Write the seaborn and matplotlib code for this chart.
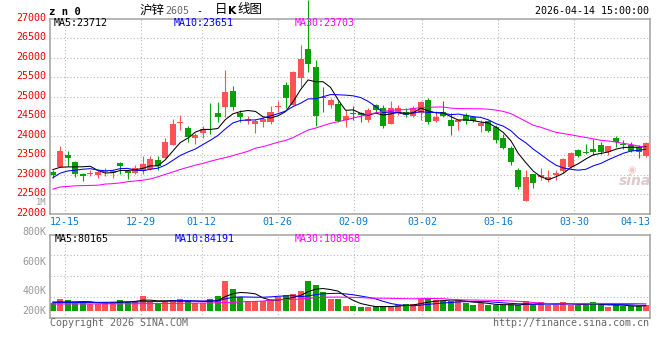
import numpy as np
import pandas as pd
import matplotlib
matplotlib.use("Agg")
import matplotlib.pyplot as plt
import seaborn as sns
from matplotlib.transforms import ScaledTranslation

# ---------------- data ----------------
opens = [23080, 23200, 23500, 23330, 23010, 23030, 22980, 23080, 23040, 23300,
         23100, 23050, 23090, 23140, 23370, 23440, 23760, 24320, 24190, 23945,
         24060, 24300, 24580, 24740, 25140, 24585, 24370, 24305, 24355, 24355,
         24730, 25295, 24800, 25470, 26220, 25765, 25000, 24800, 24825, 24400,
         24580, 24570, 24415, 24780, 24720, 24295, 24570, 24595, 24510, 24570,
         24910, 24375, 24595, 24415, 24355, 24525, 24485, 24250, 24380, 24225,
         23945, 23690, 23115, 22330, 23010, 22945, 22875, 22990, 23100, 23200,
         23630, 23565, 23655, 23755, 23585, 23945, 23780, 23755, 23715, 23475]
highs = [23120, 23740, 23600, 23350, 23050, 23110, 23110, 23160, 23120, 23330,
         23130, 23240, 23480, 23470, 23470, 23930, 24420, 24530, 24240, 24060,
         24260, 24830, 24870, 25680, 25270, 24650, 24500, 24440, 24480, 24760,
         24880, 25380, 25655, 26320, 27480, 25935, 25250, 24955, 24885, 24655,
         24755, 24610, 24700, 24825, 24780, 24885, 24780, 24720, 24755, 24885,
         24955, 24635, 24885, 24570, 24440, 24570, 24500, 24400, 24415, 24270,
         24040, 23730, 23160, 23115, 23030, 23160, 23115, 23115, 23430, 23585,
         23670, 23775, 23910, 23840, 23740, 23985, 23900, 23840, 23755, 23840]
lows = [22920, 23190, 23220, 22930, 22840, 22960, 22920, 22960, 22920, 23010,
        22890, 23010, 23030, 23110, 23125, 23430, 23750, 24140, 23840, 23800,
        23930, 24040, 24350, 24480, 24650, 24360, 24290, 24080, 24230, 24310,
        24610, 24710, 24790, 25250, 25640, 24250, 24610, 24710, 24360, 24230,
        24415, 24355, 24355, 24570, 24200, 24290, 24525, 24470, 24470, 24415,
        24295, 24355, 24470, 24015, 24140, 24295, 24355, 24100, 24100, 23815,
        23670, 23245, 22630, 22325, 22660, 22875, 22815, 22875, 23055, 23160,
        23455, 23525, 23500, 23525, 23500, 23715, 23670, 23585, 23440, 23455]
closes = [22990, 23610, 23430, 23030, 22960, 23050, 23080, 23090, 23090, 23230,
          23050, 23175, 23265, 23410, 23230, 23840, 24300, 24350, 23970, 24010,
          24180, 24290, 24480, 25115, 24740, 24470, 24420, 24370, 24420, 24595,
          24745, 24955, 25640, 25960, 25850, 24510, 24960, 24910, 24375, 24500,
          24565, 24520, 24655, 24655, 24250, 24715, 24720, 24525, 24720, 24860,
          24355, 24485, 24510, 24245, 24415, 24380, 24380, 24330, 24125, 23885,
          23690, 23330, 22690, 22945, 22790, 22995, 22945, 23055, 23395, 23545,
          23475, 23555, 23585, 23570, 23730, 23835, 23770, 23610, 23585, 23815]
volumes = [114000, 183000, 167000, 129000, 114000, 105000, 105000, 136000, 136000, 167000,
           136000, 151000, 229000, 140000, 114000, 136000, 167000, 183000, 151000, 114000,
           114000, 183000, 229000, 463000, 339000, 207000, 151000, 151000, 151000, 167000,
           207000, 245000, 261000, 307000, 463000, 401000, 296000, 183000, 183000, 73000,
           73000, 51000, 51000, 73000, 73000, 73000, 89000, 105000, 105000, 183000,
           183000, 167000, 151000, 151000, 167000, 114000, 89000, 114000, 89000, 89000,
           89000, 89000, 89000, 151000, 89000, 140000, 89000, 89000, 140000, 89000,
           89000, 89000, 136000, 89000, 51000, 89000, 73000, 73000, 73000, 89000]

# moving-average values before the window is full
ma5_head = [23130, 23190, 23200, 23200]
ma10_head = [22920, 23040, 23095, 23115, 23140, 23155, 23120, 23100, 23110]
ma30_head = [22630, 22685, 22700, 22715, 22720, 22725, 22730, 22760, 22770, 22790,
             22820, 22840, 22860, 22890, 22945, 23010, 23070, 23135, 23190, 23245,
             23290, 23345, 23395, 23440, 23490, 23545, 23600, 23680, 23720]
vol_ma5_head = [135000, 136000, 137000, 138000]
vol_ma10_head = [126000, 127000, 128000, 128000, 128000, 129000, 130000, 131000, 133000]
vol_ma30_head = [105000, 105000, 105000, 106000, 106000, 106000, 107000, 107000, 107000, 108000,
                 108000, 109000, 110000, 111000, 112000, 113000, 114000, 115000, 117000, 118000,
                 120000, 122000, 124000, 127000, 132000, 137000, 141000, 145000, 150000]

tick_idx = [2, 12, 20, 30, 40, 49, 59, 69, 78]
tick_labels = ["12-15", "12-29", "01-12", "01-26", "02-09", "03-02", "03-16", "03-30", "04-13"]
price_ticks = [22000, 22500, 23000, 23500, 24000, 24500, 25000, 25500, 26000, 26500, 27000]
vol_tick_labels = ["200K", "400K", "600K", "800K"]
price_ma_text = [23712, 23651, 23703]
vol_ma_text = [80165, 84191, 108968]

# ---------------- style ----------------
sns.set_style("white")
plt.rcParams["font.family"] = ["DejaVu Sans Mono", "Noto Sans CJK SC"]

RED = "#ff5252"
GREEN = "#07a007"
GRID = "#b8b8b8"
FRAME = "#a0a0a0"
MA_COLORS = ["#000000", "#0000ff", "#ff00ff"]
FS = 7.2
LW = 0.75
W, H = 660, 360

fig = plt.figure(figsize=(6.6, 3.6), dpi=100)
fig.patch.set_facecolor("white")


def fx(px):
    return px / W


def fy(py):
    return 1 - py / H


def ftext(x, y, s, **kw):
    kw.setdefault("va", "center")
    kw.setdefault("fontsize", FS)
    fig.text(fx(x), fy(y), s, **kw)


ax = fig.add_axes([fx(50), fy(213.7), 600 / W, 195 / H])
axv = fig.add_axes([fx(50), fy(317.7), 600 / W, 83 / H])

n = len(closes)
x = np.arange(n)
o = np.array(opens, float)
c = np.array(closes, float)
hi = np.array(highs, float)
lo = np.array(lows, float)
v = np.array(volumes, float)
up = c >= o
cols = np.where(up, RED, GREEN)
XLIM = (-0.36, 79.53)
grid_x = [-0.43 + 1.0128 * d for d in tick_idx[:-1]]


def moving_average(vals, w, head):
    s = pd.Series(vals, dtype=float).rolling(w).mean().to_numpy()
    s[: w - 1] = head
    return s


# ---------------- main candlestick panel ----------------
for yv in price_ticks[1:-1]:
    ax.axhline(yv, color=GRID, lw=0.8, ls=(0, (1, 2)), zorder=1)
for g in grid_x:
    ax.axvline(g, color=GRID, lw=0.8, ls=(0, (1, 2)), zorder=1)

ax.vlines(x, lo, hi, colors=cols, lw=0.8, zorder=3, clip_on=False)
body_lo = np.minimum(o, c)
body_h = np.maximum(np.abs(c - o), 22)
ax.bar(x, body_h, bottom=body_lo, width=0.8, color=cols, linewidth=0, zorder=4)

for w, head, col in zip([5, 10, 30], [ma5_head, ma10_head, ma30_head], MA_COLORS):
    sns.lineplot(x=x, y=moving_average(closes, w, head), color=col, linewidth=LW,
                 ax=ax, zorder=5, legend=False)

ax.set_xlim(*XLIM)
ax.set_ylim(22000, 27000)
ax.set_yticks(price_ticks)
ax.set_yticklabels([str(t) for t in price_ticks])
ax.set_xticks(grid_x + [XLIM[1]])
ax.set_xticklabels(tick_labels)
ax.tick_params(axis="y", length=0, pad=2.4, labelsize=FS, labelcolor="#ee0000")
ax.tick_params(axis="x", length=0, pad=2.2, labelsize=FS, labelcolor="#0a78d2")
ax.set_xlabel("")
ax.set_ylabel("")
up2 = ScaledTranslation(0, 2 / 100, fig.dpi_scale_trans)
for lbl in ax.get_yticklabels():
    lbl.set_transform(lbl.get_transform() + up2)
ax.get_xticklabels()[-1].set_horizontalalignment("right")

# ---------------- volume panel ----------------
S = 15600.0
VLO, VHI = -7 * S, 76 * S
sns.barplot(x=x, y=v, hue=np.where(up, "up", "down"), palette={"up": RED, "down": GREEN},
            dodge=False, width=0.8, saturation=1, linewidth=0, legend=False, ax=axv, zorder=3)
for w, head, col in zip([5, 10, 30], [vol_ma5_head, vol_ma10_head, vol_ma30_head], MA_COLORS):
    sns.lineplot(x=x, y=moving_average(volumes, w, head), color=col, linewidth=LW,
                 ax=axv, zorder=5, legend=False)
for f in (0.25, 0.5, 0.75):
    axv.axhline(VLO + f * (VHI - VLO), color=GRID, lw=0.8, ls=(0, (1, 2)), zorder=1)
for g in grid_x:
    axv.axvline(g, color=GRID, lw=0.8, ls=(0, (1, 2)), zorder=1)
axv.set_xlim(*XLIM)
axv.set_ylim(VLO, VHI)
axv.set_xticks([])
axv.set_xlabel("")
axv.set_ylabel("")
vol_tick_pos = [(310.7 - py) * S for py in (310.3, 290.3, 261.0)] + [VHI]
axv.set_yticks(vol_tick_pos)
axv.set_yticklabels(vol_tick_labels)
axv.tick_params(axis="y", length=0, pad=2.4, labelsize=FS, labelcolor="#999999")
up4 = ScaledTranslation(0, 4 / 100, fig.dpi_scale_trans)
lbls = axv.get_yticklabels()
lbls[-1].set_transform(lbls[-1].get_transform() + up4)

for a in (ax, axv):
    a.set_facecolor("white")
    for sp in a.spines.values():
        sp.set_visible(True)
        sp.set_color(FRAME)
        sp.set_linewidth(1.1)
        sp.set_zorder(6)

# ---------------- texts ----------------
ftext(49, 12, "z n 0", fontweight="bold", fontsize=7.6, color="black")
ftext(140, 10, "沪锌", family=["Noto Sans CJK SC"], fontsize=9, color="black")
ftext(165, 11, "2605", color="#666666")
ftext(196.5, 11, "-", color="black")
ftext(215, 10, "日", family=["Noto Sans CJK SC"], fontsize=9, color="black")
ftext(228, 11, "K", family=["DejaVu Sans"], fontweight="bold", fontsize=7.8, color="black")
ftext(237, 10, "线图", family=["Noto Sans CJK SC"], fontsize=9, color="black")
ftext(649.3, 11.2, "2026-04-14 15:00:00", ha="right", color="black")

for xp, name, val, col in zip([54, 174, 295], ["MA5", "MA10", "MA30"], price_ma_text, MA_COLORS):
    ftext(xp, 23.3, f"{name}:{val}", color=col)
for xp, name, val, col in zip([54.3, 175, 295], ["MA5", "MA10", "MA30"], vol_ma_text, MA_COLORS):
    ftext(xp, 238.5, f"{name}:{val}", color=col)

ftext(46.7, 202.5, "1M", ha="right", fontsize=6.3, color="#999999")
ftext(50, 323.5, "Copyright 2026 SINA.COM", color="#666666")
ftext(649.3, 323.5, "http://finance.sina.com.cn", ha="right", color="#666666")
ftext(619, 181, "sina", family=["DejaVu Sans"], fontstyle="italic", fontweight="bold",
      fontsize=10, color="#dccaca")
ftext(627, 170, "◉", family=["DejaVu Sans"], fontsize=7, color="#f0c8c8")

fig.savefig("out.png", dpi=100, facecolor="white")
